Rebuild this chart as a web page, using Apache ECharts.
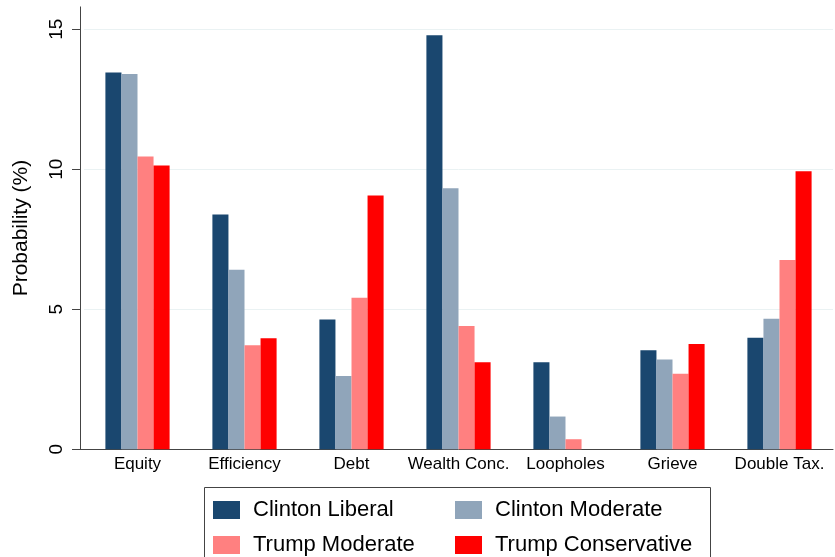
<!DOCTYPE html>
<html>
<head>
<meta charset="utf-8">
<script src="https://cdn.jsdelivr.net/npm/echarts@6/dist/echarts.min.js"></script>
<style>
  html, body { margin: 0; padding: 0; background: #fff; }
  #chart { width: 835px; height: 557px; }
</style>
</head>
<body>
<div id="chart"></div>
<script>
// Reasons categories along the x axis
const categories = ['Equity', 'Efficiency', 'Debt', 'Wealth Conc.', 'Loopholes', 'Grieve', 'Double Tax.'];

// Probability (%) for each voter group
const clintonLiberal = [13.46, 8.39, 4.64, 14.79, 3.11, 3.54, 3.98];
const clintonModerate = [13.40, 6.41, 2.62, 9.32, 1.17, 3.21, 4.66];
const trumpModerate = [10.46, 3.72, 5.41, 4.40, 0.36, 2.70, 6.76];
const trumpConservative = [10.14, 3.97, 9.06, 3.11, 0, 3.76, 9.93];

// Y axis tick values
const yTicks = [0, 5, 10, 15];

const FONT = '"Liberation Sans", Arial, Helvetica, sans-serif';

const seriesDefs = [
  { name: 'Clinton Liberal', data: clintonLiberal, color: '#1a476f' },
  { name: 'Clinton Moderate', data: clintonModerate, color: '#90a5ba' },
  { name: 'Trump Moderate', data: trumpModerate, color: '#ff8080' },
  { name: 'Trump Conservative', data: trumpConservative, color: '#ff0000' }
];

const chart = echarts.init(document.getElementById('chart'), null, { renderer: 'canvas' });

const legendCommon = {
  orient: 'vertical',
  top: 499,
  itemWidth: 27,
  itemHeight: 18,
  itemGap: 13,
  icon: 'rect',
  selectedMode: false,
  padding: 0,
  textStyle: { fontFamily: FONT, fontSize: 22, color: '#000', padding: [0, 0, 0, 8] }
};

const legendFrame = {
  type: 'rect',
  shape: { x: 204.5, y: 487.5, width: 506, height: 80 },
  style: { fill: 'none', stroke: '#444', lineWidth: 1 },
  z: -1
};

chart.setOption({
  animation: false,
  backgroundColor: '#fff',
  textStyle: { fontFamily: FONT },
  grid: {
    left: 84,
    right: 2,
    top: 6.9,
    bottom: 107.7,
    outerBoundsMode: 'none'
  },
  legend: [
    Object.assign({ left: 213, data: ['Clinton Liberal', 'Trump Moderate'] }, legendCommon),
    Object.assign({ left: 455, data: ['Clinton Moderate', 'Trump Conservative'] }, legendCommon)
  ],
  xAxis: {
    type: 'category',
    data: categories,
    axisLine: { show: true, lineStyle: { color: '#444', width: 1 } },
    axisTick: { show: false },
    axisLabel: { fontFamily: FONT, fontSize: 17, color: '#000', margin: 7, interval: 0, hideOverlap: false },
    splitLine: { show: false }
  },
  yAxis: {
    type: 'value',
    min: 0,
    max: 15.8,
    offset: 4,
    name: 'Probability (%)',
    nameLocation: 'middle',
    nameGap: 48,
    nameTextStyle: { fontFamily: FONT, fontSize: 21, color: '#000' },
    axisLine: { show: true, lineStyle: { color: '#444', width: 1 } },
    axisTick: { show: true, length: 8, customValues: yTicks, lineStyle: { color: '#444' } },
    axisLabel: { fontFamily: FONT, fontSize: 19, color: '#000', rotate: 90, margin: 14, customValues: yTicks },
    splitLine: { show: true, lineStyle: { color: '#eaf2f3', width: 1 } }
  },
  series: seriesDefs.map(s => ({
    name: s.name,
    type: 'bar',
    data: s.data,
    barGap: '0%',
    barCategoryGap: '40%',
    itemStyle: { color: s.color },
    emphasis: { disabled: true }
  })),
  graphic: [legendFrame]
});

// join the x axis line with the offset y axis
const base = Math.round(chart.convertToPixel({ yAxisIndex: 0 }, 0)) + 0.5;
chart.setOption({
  graphic: [
    legendFrame,
    {
      type: 'line',
      shape: { x1: 80, y1: base, x2: 84, y2: base },
      style: { stroke: '#444', lineWidth: 1 }
    }
  ]
});
</script>
</body>
</html>
